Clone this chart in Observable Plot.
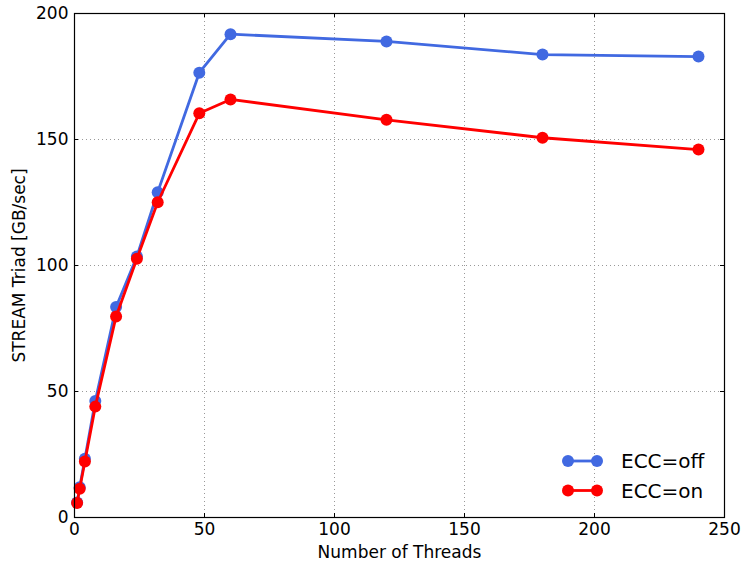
<!DOCTYPE html>
<html>
<head>
<meta charset="utf-8">
<script src="https://cdn.jsdelivr.net/npm/d3@7"></script>
<script src="https://cdn.jsdelivr.net/npm/@observablehq/plot@0.6"></script>
<style>
  html, body { margin: 0; padding: 0; background: #fff; }
  svg { font-family: "DejaVu Sans", sans-serif; }
</style>
</head>
<body>
<div id="chart"></div>
<script>
const threads = [1, 2, 4, 8, 16, 24, 32, 48, 60, 120, 180, 240];
const eccOff  = [6.0, 12.0, 23.3, 46.2, 83.5, 103.6, 129.1, 176.5, 191.8, 188.9, 183.7, 182.9];
const eccOn   = [5.8, 11.4, 22.2, 44.0, 79.8, 102.7, 125.1, 160.4, 165.9, 157.8, 150.7, 146.0];
const seriesNames = ["ECC=off", "ECC=on"];
const seriesColors = ["#4169E1", "#FF0000"];
const xTicks = [0, 50, 100, 150, 200, 250];
const yTicks = [0, 50, 100, 150, 200];

const offData = threads.map((t, i) => ({threads: t, value: eccOff[i]}));
const onData  = threads.map((t, i) => ({threads: t, value: eccOn[i]}));

const W = 745, H = 562;
const mL = 74, mR = 21, mT = 13, mB = 45;
const fw = W - mL - mR, fh = H - mT - mB;
const tick = 4;

const plot = Plot.plot({
  width: W, height: H,
  marginLeft: mL, marginRight: mR, marginTop: mT, marginBottom: mB,
  style: {fontFamily: "'DejaVu Sans', sans-serif", fontSize: "17px", color: "#000", background: "#fff"},
  x: {domain: [0, 250]},
  y: {domain: [0, 200]},
  marks: [
    Plot.gridX(xTicks, {stroke: "#999", strokeOpacity: 1, strokeWidth: 1, strokeDasharray: "1,3"}),
    Plot.gridY(yTicks, {stroke: "#999", strokeOpacity: 1, strokeWidth: 1, strokeDasharray: "1,3"}),
    // inward ticks on all four sides
    Plot.tickX(xTicks, {x: d => d, insetTop: fh - tick, stroke: "#000"}),
    Plot.tickX(xTicks, {x: d => d, insetBottom: fh - tick, stroke: "#000"}),
    Plot.tickY(yTicks, {y: d => d, insetRight: fw - tick, stroke: "#000"}),
    Plot.tickY(yTicks, {y: d => d, insetLeft: fw - tick, stroke: "#000"}),
    Plot.axisX(xTicks, {tickSize: 0, tickPadding: 5, fontSize: 17, label: "Number of Threads", labelAnchor: "center", labelOffset: 40, labelArrow: "none"}),
    Plot.axisY(yTicks, {tickSize: 0, tickPadding: 6, fontSize: 17, label: "STREAM Triad [GB/sec]", labelAnchor: "center", labelOffset: 62, labelArrow: "none"}),
    Plot.line(offData, {x: "threads", y: "value", stroke: seriesColors[0], strokeWidth: 2.8}),
    Plot.dot(offData, {x: "threads", y: "value", r: 6, fill: seriesColors[0], stroke: "none"}),
    Plot.line(onData, {x: "threads", y: "value", stroke: seriesColors[1], strokeWidth: 2.8}),
    Plot.dot(onData, {x: "threads", y: "value", r: 6, fill: seriesColors[1], stroke: "none"}),
    Plot.frame({stroke: "#000", strokeWidth: 1.2})
  ]
});

// Legend (inside the plot, lower right)
const svg = d3.select(plot);
const leg = svg.append("g").attr("text-anchor", "start");
seriesNames.forEach((name, i) => {
  const y = 461 + i * 29.5;
  const g = leg.append("g");
  g.append("line").attr("x1", 568).attr("x2", 597).attr("y1", y).attr("y2", y)
    .attr("stroke", seriesColors[i]).attr("stroke-width", 2.8);
  g.append("circle").attr("cx", 568).attr("cy", y).attr("r", 6).attr("fill", seriesColors[i]);
  g.append("circle").attr("cx", 597).attr("cy", y).attr("r", 6).attr("fill", seriesColors[i]);
  g.append("text").attr("x", 621).attr("y", y).attr("dy", "0.35em")
    .attr("text-anchor", "start")
    .style("font-size", "20px").attr("fill", "#000").text(name);
});

document.getElementById("chart").appendChild(plot);
</script>
</body>
</html>
